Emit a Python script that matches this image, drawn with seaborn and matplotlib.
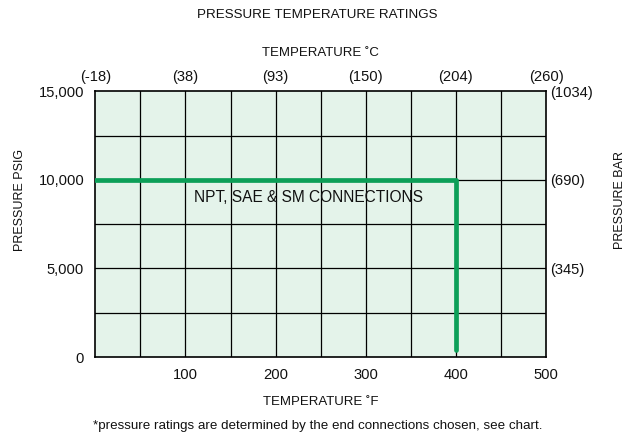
import pandas as pd
import matplotlib
matplotlib.use("Agg")
import matplotlib.pyplot as plt
import seaborn as sns

# --- Data ---
temp_f = [0, 400, 400]
pressure_psig = [10000, 10000, 400]

x_ticks_f = [100, 200, 300, 400, 500]
x_ticks_c_pos = [0, 100, 200, 300, 400, 500]
x_ticks_c_labels = ["(-18)", "(38)", "(93)", "(150)", "(204)", "(260)"]
y_ticks_psig = [0, 5000, 10000, 15000]
y_ticks_psig_labels = ["0", "5,000", "10,000", "15,000"]
y_ticks_bar_pos = [5000, 10000, 15000]
y_ticks_bar_labels = ["(345)", "(690)", "(1034)"]

GREEN = "#0c9f58"
BG = "#e4f3ea"
INK = "#111111"

sns.set_theme(style="white")
plt.rcParams["font.family"] = ["Liberation Sans", "DejaVu Sans"]
plt.rcParams["text.color"] = INK
plt.rcParams["xtick.color"] = INK
plt.rcParams["ytick.color"] = INK

df = pd.DataFrame({"temp_f": temp_f, "pressure": pressure_psig})

fig = plt.figure(figsize=(6.35, 4.47), dpi=100)
ax = fig.add_axes([0.150, 0.201, 0.710, 0.595])
ax.set_facecolor(BG)

# grid every 50 F / 2500 psig
for gx in range(50, 500, 50):
    ax.axvline(gx, color="black", lw=0.9, zorder=1)
for gy in range(2500, 15000, 2500):
    ax.axhline(gy, color="black", lw=0.9, zorder=1)

sns.lineplot(data=df, x="temp_f", y="pressure", sort=False, estimator=None,
             color=GREEN, lw=3.4, ax=ax, zorder=3)
ax.text(236, 9000, "NPT, SAE & SM CONNECTIONS", ha="center", va="center",
        fontsize=11.2, color=INK, zorder=4)

ax.set_xlim(0, 500)
ax.set_ylim(0, 15000)
for s in ax.spines.values():
    s.set_color("black")
    s.set_linewidth(1.2)

ax.set_xticks(x_ticks_f)
ax.set_xticklabels([str(v) for v in x_ticks_f], fontsize=10.6)
ax.set_yticks(y_ticks_psig)
ax.set_yticklabels(y_ticks_psig_labels, fontsize=10.6)
ax.tick_params(length=0, pad=8)
ax.set_xlabel("TEMPERATURE ˚F", fontsize=9.5, labelpad=10, color=INK)
ax.set_ylabel("")

top = ax.secondary_xaxis("top")
top.set_xticks(x_ticks_c_pos)
top.set_xticklabels(x_ticks_c_labels, fontsize=10.6)
top.tick_params(length=0, pad=5)
top.set_xlabel("TEMPERATURE ˚C", fontsize=9.5, labelpad=10, color=INK)

right = ax.secondary_yaxis("right")
right.set_yticks(y_ticks_bar_pos)
right.set_yticklabels(y_ticks_bar_labels, fontsize=10.6)
right.tick_params(length=0, pad=3)

for s in list(top.spines.values()) + list(right.spines.values()):
    s.set_visible(False)

fig.text(20 / 635, 1 - 200 / 447, "PRESSURE PSIG", rotation=90,
         ha="center", va="center", fontsize=9)
fig.text(620 / 635, 1 - 200 / 447, "PRESSURE BAR", rotation=90,
         ha="center", va="center", fontsize=9)
fig.text(0.5, 1 - 15 / 447, "PRESSURE TEMPERATURE RATINGS", ha="center",
         va="center", fontsize=9.6)
fig.text(0.5, 1 - 426 / 447,
         "*pressure ratings are determined by the end connections chosen, see chart.",
         ha="center", va="center", fontsize=9.6)

fig.savefig("out.png", dpi=100)
